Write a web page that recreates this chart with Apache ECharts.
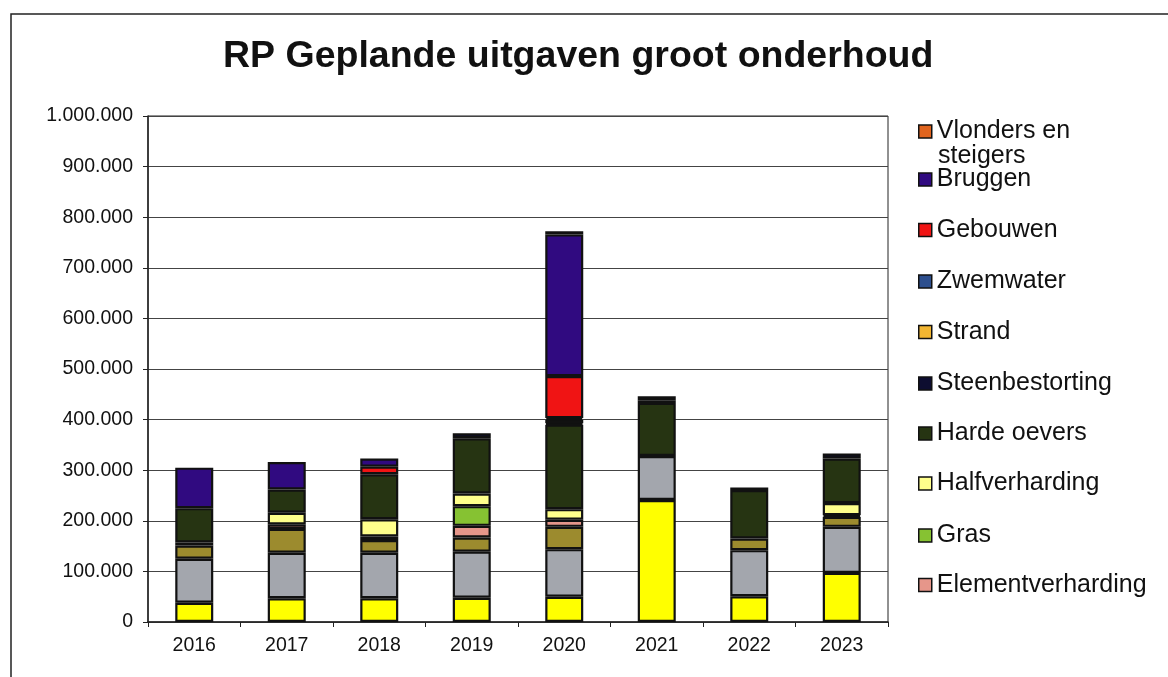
<!DOCTYPE html>
<html>
<head>
<meta charset="utf-8">
<script src="https://cdn.jsdelivr.net/npm/echarts@6/dist/echarts.min.js"></script>
<style>
html,body{margin:0;padding:0;background:#fff;}
#c{width:1168px;height:677px;}
</style>
</head>
<body>
<div id="c"></div>
<script>
// ---- data ----
const categories = ['2016','2017','2018','2019','2020','2021','2022','2023'];
const titleText = 'RP Geplande uitgaven groot onderhoud';
const yTicks = [0,100000,200000,300000,400000,500000,600000,700000,800000,900000,1000000];

// stack order bottom -> top
const asfalt            = [38000, 47000, 47000, 48000, 50000, 241000, 51000, 97000];
const beplanting        = [87000, 90000, 90000, 91000, 94000, 87000, 91000, 91000];
const bomen             = [26000, 47000, 25000, 28000, 44000, 0, 23000, 20000];
const elementverharding = [6000, 9000, 7000, 23000, 14000, 0, 0, 3000];
const gras              = [0, 0, 0, 39000, 0, 0, 0, 0];
const halfverharding    = [0, 23000, 34000, 25000, 21000, 0, 0, 24000];
const hardeOevers       = [68000, 46000, 89000, 109000, 167000, 105000, 96000, 88000];
const steenbestorting   = [0, 0, 0, 10000, 3000, 5000, 5000, 10000];
const strand            = [0, 0, 0, 0, 6000, 0, 0, 0];
const zwemwater         = [0, 0, 0, 0, 4000, 0, 0, 0];
const gebouwen          = [0, 0, 15000, 0, 83000, 8000, 0, 0];
const bruggen           = [80000, 54000, 16000, 0, 280000, 0, 0, 0];
const vlonders          = [0, 0, 0, 0, 6000, 0, 0, 0];

const seriesNames = ['Asfalt','Beplanting','Bomen','Elementverharding','Gras','Halfverharding',
  'Harde oevers','Steenbestorting','Strand','Zwemwater','Gebouwen','Bruggen','Vlonders en steigers'];
const seriesValues = [asfalt, beplanting, bomen, elementverharding, gras, halfverharding,
  hardeOevers, steenbestorting, strand, zwemwater, gebouwen, bruggen, vlonders];
const seriesColors = ['#ffff00','#a3a6ad','#9c8b2e','#e6968a','#86c232','#ffff8c',
  '#263412','#0d0d30','#f2b632','#2d4f8e','#f01414','#300a80','#e0641e'];

// legend shows only the top ten series (as in the original)
const legendNames = ['Vlonders en steigers','Bruggen','Gebouwen','Zwemwater','Strand',
  'Steenbestorting','Harde oevers','Halfverharding','Gras','Elementverharding'];

// ---- chart ----
const FONT = '"Liberation Sans", Arial, sans-serif';
const legendCenters = [131, 179, 229.5, 281, 331.5, 383, 433, 483, 535, 584.5];

function fmt(v){ return String(v).replace(/\B(?=(\d{3})+(?!\d))/g, '.'); }

const chart = echarts.init(document.getElementById('c'), null, {renderer:'canvas'});

const legends = legendNames.map((n, i) => ({
  data: [n],
  left: 918,
  top: legendCenters[i] - 12,
  orient: 'vertical',
  itemWidth: 13,
  itemHeight: 13,
  itemGap: 0,
  padding: 0,
  icon: 'rect',
  selectedMode: false,
  itemStyle: { borderColor: '#111', borderWidth: 1.5 },
  formatter: name => name === 'Vlonders en steigers' ? 'Vlonders en' : name,
  textStyle: { fontFamily: FONT, fontSize: 25, color: '#111', lineHeight: 24, padding: [0,0,0,0] }
}));

const option = {
  backgroundColor: '#fff',
  animation: false,
  title: {
    text: titleText,
    left: 218,
    top: 33,
    textStyle: { fontFamily: FONT, fontSize: 37.5, fontWeight: 'bold', color: '#111' }
  },
  legend: legends,
  grid: { left: 148, right: 280, top: 116, bottom: 55, show: true, borderColor: '#222', borderWidth: 1 },
  xAxis: {
    type: 'category',
    data: categories,
    axisLine: { lineStyle: { color: '#222', width: 1.5 } },
    axisTick: { show: true, length: 5, lineStyle: { color: '#222' } },
    axisLabel: { fontFamily: FONT, fontSize: 19.5, color: '#111', margin: 14 }
  },
  yAxis: {
    type: 'value',
    min: yTicks[0],
    max: yTicks[yTicks.length - 1],
    interval: yTicks[1] - yTicks[0],
    axisLine: { show: true, lineStyle: { color: '#222', width: 1.5 } },
    axisTick: { show: true, length: 5, lineStyle: { color: '#222' } },
    axisLabel: { fontFamily: FONT, fontSize: 19.5, color: '#111', margin: 15, formatter: fmt },
    splitLine: { lineStyle: { color: '#444', width: 1 } }
  },
  series: seriesNames.map((n, i) => ({
    name: n,
    type: 'bar',
    stack: 'total',
    barWidth: 38,
    data: seriesValues[i].map(v => v === 0 ? '-' : v),
    itemStyle: { color: seriesColors[i], borderColor: '#111', borderWidth: 2.2 }
  })),
  graphic: [
    { type: 'rect', shape: { x: 11, y: 14, width: 1170, height: 680 },
      style: { fill: 'none', stroke: '#222', lineWidth: 1.5 }, silent: true },
    { type: 'text', left: 938, top: 144,
      style: { text: 'steigers', font: '25px ' + FONT, fill: '#111' } }
  ]
};
chart.setOption(option);
</script>
</body>
</html>
